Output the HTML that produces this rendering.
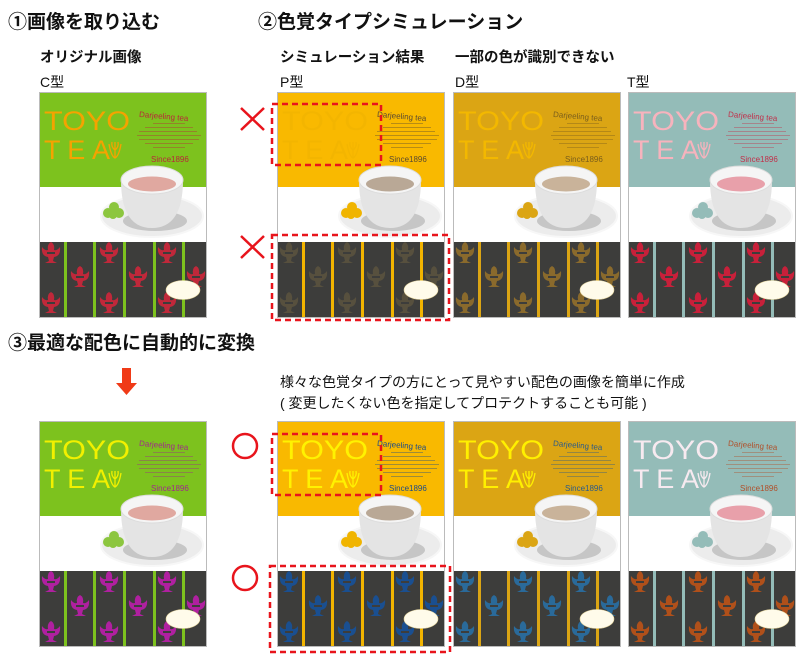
<!DOCTYPE html>
<html><head><meta charset="utf-8"><style>
html,body{margin:0;padding:0;background:#fff;}
svg{display:block;font-family:"Liberation Sans","Noto Sans CJK JP",sans-serif;}
.h{font-size:19px;font-weight:bold;fill:#111;}
.s{font-size:14.5px;font-weight:bold;fill:#111;}
.n{font-size:14px;fill:#111;}
.t{font-size:27px;fill:var(--title);}
.dj{font-size:8px;fill:var(--dj);}
</style></head><body>
<svg width="806" height="664" viewBox="0 0 806 664" xmlns="http://www.w3.org/2000/svg">
<defs>
<symbol id="m" viewBox="-10 -12 20 24" width="20" height="24" overflow="visible">
<path d="M-9,-6 Q-10,3 -3,4 L-2,8 L-6,10 L6,10 L2,8 L3,4 Q10,3 9,-6 Q6,-2 3,-3 Q4,-9 0,-11 Q-4,-9 -3,-3 Q-6,-2 -9,-6 Z M-4,-1 h8 v2 h-8z" style="fill:var(--motif)"/>
</symbol>
<clipPath id="dc"><rect x="0" y="150" width="168" height="75"/></clipPath>
<symbol id="pkg" width="168" height="226" overflow="visible">
<rect x="0.5" y="0.5" width="167" height="225" fill="#fff" stroke="#bbb"/>
<rect x="1" y="1" width="166" height="94" style="fill:var(--top)"/>
<g style="fill:var(--dj)" opacity="0.5">
<rect x="114" y="31" width="32" height="0.8"/><rect x="106" y="35" width="48" height="0.8"/><rect x="100" y="39" width="58" height="0.8"/>
<rect x="98" y="43" width="64" height="0.8"/><rect x="100" y="47" width="60" height="0.8"/><rect x="106" y="51" width="48" height="0.8"/><rect x="114" y="55" width="32" height="0.8"/>
</g>
<ellipse cx="113" cy="124" rx="51" ry="21" fill="#ececec" stroke="#f7f7f7" stroke-width="2"/>
<ellipse cx="116" cy="129" rx="32" ry="10" fill="#c6c6c6"/>
<path d="M82 88 Q82 136 113 136 Q144 136 144 88 Z" fill="#e4e4e4"/>
<ellipse cx="113" cy="88" rx="31" ry="14" fill="#f5f5f5" stroke="#dcdcdc"/>
<ellipse cx="113" cy="92" rx="24" ry="7.5" style="fill:var(--tea)"/>
<g style="fill:var(--cookie)"><circle cx="69" cy="121" r="5"/><circle cx="75" cy="115" r="5"/><circle cx="80" cy="121" r="5"/><circle cx="74" cy="123" r="4"/></g>
<rect x="1" y="150" width="166" height="75" fill="#3d3d3b"/>
<g style="fill:var(--stripe)"><rect x="25" y="150" width="3" height="75"/><rect x="54" y="150" width="3" height="75"/><rect x="84" y="150" width="3" height="75"/><rect x="114" y="150" width="3" height="75"/><rect x="143" y="150" width="3" height="75"/></g>
<g clip-path="url(#dc)">
<use href="#m" x="2" y="149"/><use href="#m" x="60" y="149"/><use href="#m" x="118" y="149"/>
<use href="#m" x="31" y="173"/><use href="#m" x="89" y="173"/><use href="#m" x="147" y="173"/>
<use href="#m" x="2" y="199"/><use href="#m" x="60" y="199"/><use href="#m" x="118" y="199"/>
</g>
<ellipse cx="144" cy="198" rx="17" ry="9.5" fill="#fffbea" stroke="#e8d8a0" stroke-width="0.6"/>
<path d="M70 52 Q72 64 76 66 Q80 64 82 52 M76 66 L76 50 M76 58 Q72 55 73 50 M76 58 Q80 55 79 50" fill="none" style="stroke:var(--title)" stroke-width="1.3"/>
</symbol>
</defs>

<text class="h" x="8" y="28">①画像を取り込む</text>
<text class="h" x="258" y="28">②色覚タイプシミュレーション</text>
<text class="s" x="40" y="62">オリジナル画像</text>
<text class="s" x="280" y="62">シミュレーション結果</text>
<text class="s" x="455" y="62">一部の色が識別できない</text>
<text class="n" x="40" y="87">C型</text>
<text class="n" x="280" y="87">P型</text>
<text class="n" x="455" y="87">D型</text>
<text class="n" x="627" y="87">T型</text>

<g transform="translate(39,92)" style="--top:#7dc21e;--title:#f5a300;--dj:#b8283a;--stripe:#7dc21e;--motif:#c0283a;--tea:#e0a8a0;--cookie:#8cc63f">
<use href="#pkg"/><text class="t" x="5" y="38" textLength="86" lengthAdjust="spacingAndGlyphs">TOYO</text><text class="t" x="5" y="67" textLength="66">TEA</text>
<text class="dj" x="100" y="27" transform="rotate(5 125 25)">Darjeeling tea</text><text class="dj" x="112" y="70" font-size="6">Since1896</text></g>
<g transform="translate(277,92)" style="--top:#f9b900;--title:#f3b500;--dj:#5a4a30;--stripe:#f2b400;--motif:#57503e;--tea:#b9a896;--cookie:#f0b400">
<use href="#pkg"/><text class="t" x="5" y="38" textLength="86" lengthAdjust="spacingAndGlyphs">TOYO</text><text class="t" x="5" y="67" textLength="66">TEA</text>
<text class="dj" x="100" y="27" transform="rotate(5 125 25)">Darjeeling tea</text><text class="dj" x="112" y="70" font-size="6">Since1896</text></g>
<g transform="translate(453,92)" style="--top:#dba514;--title:#f3b800;--dj:#7a5e1c;--stripe:#dba514;--motif:#8a6a2c;--tea:#c9b39a;--cookie:#dba514">
<use href="#pkg"/><text class="t" x="5" y="38" textLength="86" lengthAdjust="spacingAndGlyphs">TOYO</text><text class="t" x="5" y="67" textLength="66">TEA</text>
<text class="dj" x="100" y="27" transform="rotate(5 125 25)">Darjeeling tea</text><text class="dj" x="112" y="70" font-size="6">Since1896</text></g>
<g transform="translate(628,92)" style="--top:#94bcb8;--title:#f7b3bd;--dj:#c0304a;--stripe:#94bcb8;--motif:#c8203a;--tea:#e8a0aa;--cookie:#94bcb8">
<use href="#pkg"/><text class="t" x="5" y="38" textLength="86" lengthAdjust="spacingAndGlyphs">TOYO</text><text class="t" x="5" y="67" textLength="66">TEA</text>
<text class="dj" x="100" y="27" transform="rotate(5 125 25)">Darjeeling tea</text><text class="dj" x="112" y="70" font-size="6">Since1896</text></g>

<g stroke="#e8141c" stroke-width="2.5" fill="none">
<path d="M241 108 L264 130 M264 108 L241 130"/>
<path d="M241 236 L264 258 M264 236 L241 258"/>
</g>
<g stroke="#e8141c" stroke-width="2.5" fill="none" stroke-dasharray="6 4">
<rect x="272" y="104" width="109" height="61"/>
<rect x="272" y="235" width="177" height="85"/>
</g>

<text class="h" x="8" y="349">③最適な配色に自動的に変換</text>
<path d="M122 368 h9 v15 h6 l-10.5 12 l-10.5 -12 h6 z" fill="#f03a17"/>
<text class="n" x="280" y="387">様々な色覚タイプの方にとって見やすい配色の画像を簡単に作成</text>
<text class="n" x="280" y="408">( 変更したくない色を指定してプロテクトすることも可能 )</text>

<g transform="translate(39,421)" style="--top:#7dc21e;--title:#f2f000;--dj:#a02a8a;--stripe:#7dc21e;--motif:#b020a0;--tea:#e0a8a0;--cookie:#8cc63f">
<use href="#pkg"/><text class="t" x="5" y="38" textLength="86" lengthAdjust="spacingAndGlyphs">TOYO</text><text class="t" x="5" y="67" textLength="66">TEA</text>
<text class="dj" x="100" y="27" transform="rotate(5 125 25)">Darjeeling tea</text><text class="dj" x="112" y="70" font-size="6">Since1896</text></g>
<g transform="translate(277,421)" style="--top:#f9b900;--title:#fff200;--dj:#1a4a8a;--stripe:#f2b400;--motif:#1a4f90;--tea:#b9a896;--cookie:#f0b400">
<use href="#pkg"/><text class="t" x="5" y="38" textLength="86" lengthAdjust="spacingAndGlyphs">TOYO</text><text class="t" x="5" y="67" textLength="66">TEA</text>
<text class="dj" x="100" y="27" transform="rotate(5 125 25)">Darjeeling tea</text><text class="dj" x="112" y="70" font-size="6">Since1896</text></g>
<g transform="translate(453,421)" style="--top:#dba514;--title:#fff000;--dj:#2a5a8a;--stripe:#dba514;--motif:#2a6a9a;--tea:#c9b39a;--cookie:#dba514">
<use href="#pkg"/><text class="t" x="5" y="38" textLength="86" lengthAdjust="spacingAndGlyphs">TOYO</text><text class="t" x="5" y="67" textLength="66">TEA</text>
<text class="dj" x="100" y="27" transform="rotate(5 125 25)">Darjeeling tea</text><text class="dj" x="112" y="70" font-size="6">Since1896</text></g>
<g transform="translate(628,421)" style="--top:#94bcb8;--title:#f7eaf0;--dj:#b0502a;--stripe:#94bcb8;--motif:#b0501a;--tea:#e8a0aa;--cookie:#94bcb8">
<use href="#pkg"/><text class="t" x="5" y="38" textLength="86" lengthAdjust="spacingAndGlyphs">TOYO</text><text class="t" x="5" y="67" textLength="66">TEA</text>
<text class="dj" x="100" y="27" transform="rotate(5 125 25)">Darjeeling tea</text><text class="dj" x="112" y="70" font-size="6">Since1896</text></g>

<g stroke="#e8141c" stroke-width="2.5" fill="none">
<circle cx="245" cy="446" r="12"/>
<circle cx="245" cy="578" r="12"/>
</g>
<g stroke="#e8141c" stroke-width="2.5" fill="none" stroke-dasharray="6 4">
<rect x="272" y="434" width="109" height="61"/>
<rect x="270" y="566" width="180" height="86"/>
</g>
</svg>
</body></html>
